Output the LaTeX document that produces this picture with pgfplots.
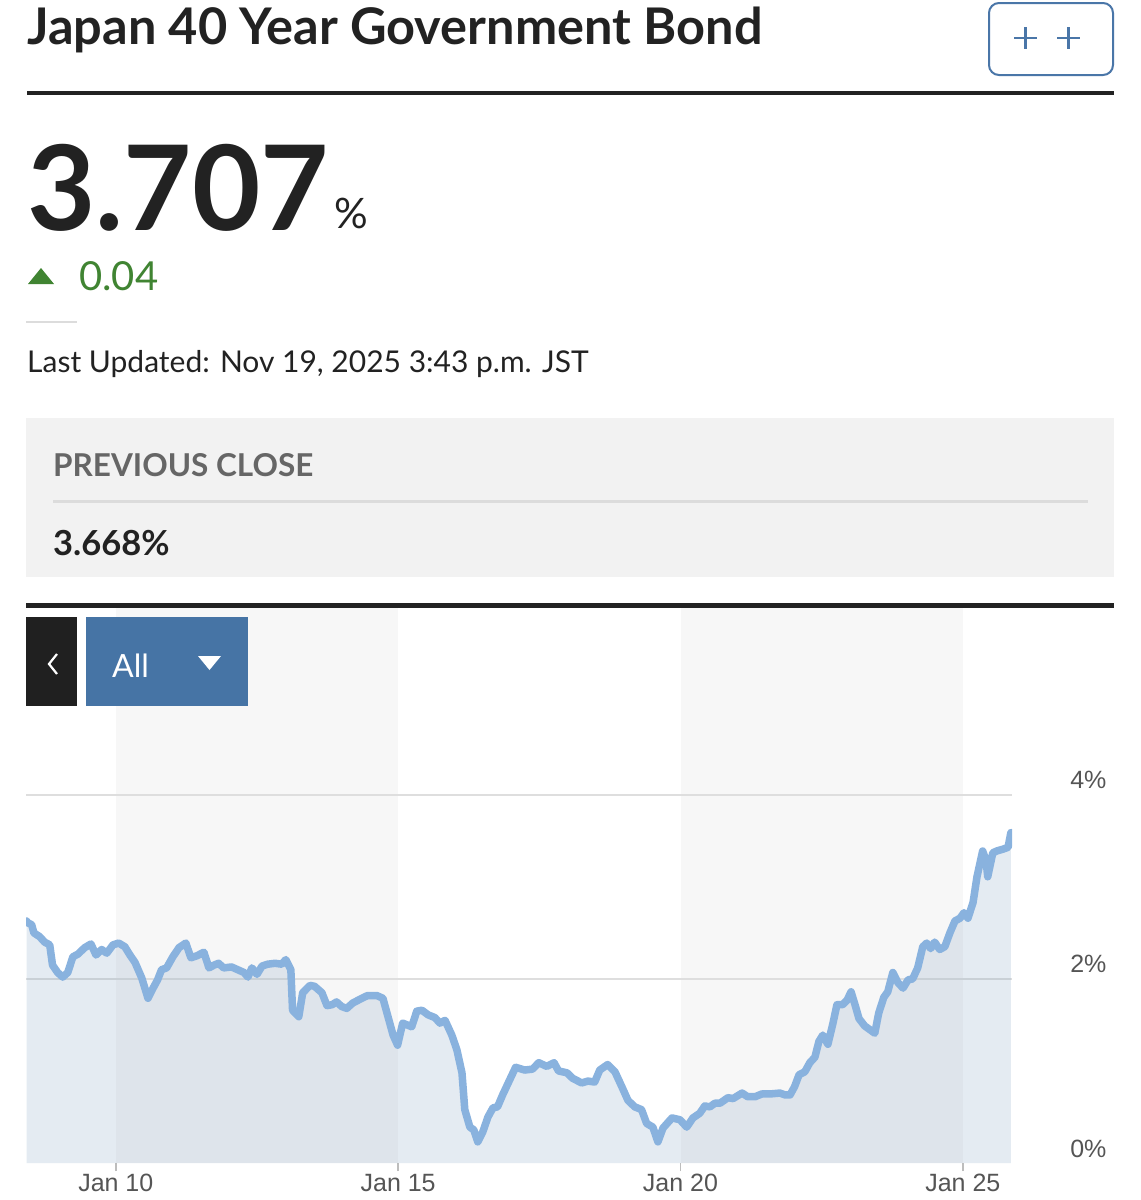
\documentclass[border=0pt]{standalone}
\usepackage{pgfplots}
\pgfplotsset{compat=1.18}
\usepackage{pgfplotstable}
\usepackage{fontspec}
\setmainfont{Lato}
\newfontfamily\chartfont{Liberation Sans}
\definecolor{txt}{RGB}{34,34,34}
\definecolor{grn}{RGB}{64,132,50}
\definecolor{btnblue}{RGB}{74,118,168}
\definecolor{boxgray}{RGB}{242,242,242}
\definecolor{band}{RGB}{247,247,247}
\definecolor{linecol}{RGB}{137,178,222}
\definecolor{areacol}{RGB}{100,140,180}
\definecolor{gridc}{RGB}{222,222,222}
\definecolor{lbl}{RGB}{85,85,85}
\definecolor{allblue}{RGB}{70,116,165}
\definecolor{sep}{RGB}{220,220,220}

\pgfplotstableread{
year pct
2008.42 2.63
2008.44 2.61
2008.51 2.59
2008.55 2.50
2008.65 2.46
2008.74 2.40
2008.83 2.37
2008.88 2.15
2008.97 2.07
2009.06 2.02
2009.15 2.07
2009.24 2.24
2009.33 2.27
2009.45 2.34
2009.56 2.38
2009.65 2.26
2009.75 2.32
2009.84 2.28
2009.95 2.37
2010.05 2.39
2010.16 2.35
2010.25 2.26
2010.34 2.18
2010.46 2.01
2010.57 1.79
2010.66 1.90
2010.74 1.99
2010.81 2.10
2010.90 2.12
2011.01 2.24
2011.12 2.34
2011.24 2.39
2011.33 2.23
2011.43 2.25
2011.56 2.29
2011.65 2.12
2011.74 2.15
2011.82 2.17
2011.91 2.12
2012.05 2.13
2012.16 2.10
2012.27 2.07
2012.34 2.02
2012.41 2.12
2012.50 2.05
2012.59 2.14
2012.69 2.16
2012.82 2.17
2012.94 2.16
2013.01 2.21
2013.10 2.10
2013.13 1.66
2013.24 1.59
2013.31 1.85
2013.44 1.93
2013.52 1.92
2013.65 1.85
2013.74 1.71
2013.83 1.72
2013.91 1.75
2014.00 1.70
2014.09 1.68
2014.20 1.74
2014.36 1.79
2014.46 1.82
2014.62 1.82
2014.73 1.79
2014.82 1.59
2014.91 1.39
2014.99 1.28
2015.08 1.52
2015.24 1.48
2015.33 1.65
2015.42 1.66
2015.53 1.61
2015.65 1.58
2015.74 1.52
2015.83 1.55
2015.95 1.39
2016.04 1.23
2016.13 0.98
2016.18 0.58
2016.27 0.39
2016.34 0.36
2016.41 0.23
2016.50 0.34
2016.59 0.50
2016.68 0.60
2016.76 0.61
2016.85 0.74
2016.98 0.91
2017.08 1.04
2017.24 1.01
2017.38 1.02
2017.49 1.09
2017.63 1.05
2017.76 1.09
2017.84 1.00
2017.99 0.98
2018.09 0.92
2018.25 0.87
2018.36 0.89
2018.48 0.88
2018.57 1.01
2018.71 1.07
2018.84 0.99
2018.96 0.83
2019.07 0.68
2019.19 0.61
2019.31 0.58
2019.40 0.43
2019.51 0.39
2019.60 0.23
2019.69 0.38
2019.85 0.49
2019.99 0.47
2020.11 0.39
2020.22 0.49
2020.34 0.54
2020.43 0.62
2020.52 0.61
2020.61 0.65
2020.70 0.65
2020.84 0.71
2020.93 0.70
2021.09 0.76
2021.19 0.72
2021.32 0.72
2021.44 0.75
2021.58 0.75
2021.76 0.76
2021.85 0.74
2021.94 0.74
2022.02 0.83
2022.10 0.96
2022.20 0.99
2022.29 1.09
2022.38 1.15
2022.45 1.32
2022.52 1.39
2022.61 1.29
2022.70 1.52
2022.77 1.72
2022.87 1.72
2022.95 1.77
2023.02 1.86
2023.09 1.72
2023.16 1.57
2023.26 1.49
2023.35 1.45
2023.44 1.41
2023.51 1.63
2023.60 1.80
2023.67 1.86
2023.76 2.07
2023.85 1.96
2023.94 1.90
2024.03 1.99
2024.11 2.00
2024.20 2.12
2024.29 2.35
2024.36 2.39
2024.43 2.33
2024.50 2.40
2024.59 2.32
2024.68 2.35
2024.77 2.50
2024.86 2.63
2024.95 2.66
2025.02 2.72
2025.09 2.66
2025.18 2.83
2025.25 3.11
2025.35 3.39
2025.41 3.29
2025.44 3.11
2025.53 3.37
2025.60 3.39
2025.71 3.41
2025.80 3.43
2025.85 3.59
}\bonddata

\begin{document}
\begin{tikzpicture}
\useasboundingbox (0,0) rectangle (1141pt,-1200pt);
\fill[white] (0,0) rectangle (1141pt,-1200pt);
\begin{scope}[x=1pt,y=-1pt]
  % title
  \node[anchor=base west, inner sep=0, text=txt, font=\fontsize{50.5}{56}\selectfont\bfseries] at (27,44) {Japan 40 Year Government Bond};
  % button
  \draw[btnblue, line width=2pt, rounded corners=10pt] (989,3) rectangle (1113,75);
  \draw[btnblue, line width=2.5pt] (1014,38)--(1037,38) (1025.5,27)--(1025.5,49);
  \draw[btnblue, line width=2.5pt] (1057,38)--(1080,38) (1068.5,27)--(1068.5,49);
  % rule
  \fill[txt] (27,91) rectangle (1114,95);
  % big value
  \node[anchor=base west, inner sep=0, text=txt, font=\fontsize{118}{126}\selectfont\bfseries] at (27,230) {3.707};
  \node[anchor=base west, inner sep=0, text=txt, font=\fontsize{42}{46}\selectfont] at (334,228) {\%};
  % change
  \fill[grn] (28,284) -- (54,284) -- (41,268) -- cycle;
  \node[anchor=base west, inner sep=0, text=grn, font=\fontsize{40}{44}\selectfont] at (79,290) {0.04};
  \fill[sep] (26,321) rectangle (77,323);
  \node[anchor=base west, inner sep=0, text=txt, font=\fontsize{30}{34}\selectfont] at (27,372) {Last Updated: Nov 19, 2025 3:43 p.m. JST};
  % previous close box
  \fill[boxgray] (26,418) rectangle (1114,577);
  \node[anchor=base west, inner sep=0, text=lbl!90!white, font=\fontsize{31.5}{35}\selectfont\bfseries] at (53,476) {PREVIOUS CLOSE};
  \fill[sep] (53,500) rectangle (1088,503);
  \node[anchor=base west, inner sep=0, text=txt, font=\fontsize{34.5}{38}\selectfont\bfseries] at (53,555) {3.668\%};
  % second rule
  \fill[txt] (26,603) rectangle (1114,608);
  % bands
  \fill[band] (116,608) rectangle (398,1163);
  \fill[band] (681,608) rectangle (963,1163);
\end{scope}

\begin{axis}[
  at={(26pt,-1163pt)}, anchor=south west,
  width=986pt, height=555pt, scale only axis,
  xmin=2008.41, xmax=2025.87, ymin=0, ymax=6.03,
  axis x line*=bottom, axis y line*=right,
  axis line style={draw=none},
  xtick={2010,2015,2020,2025},
  xticklabels={Jan 10,Jan 15,Jan 20,Jan 25},
  ytick={2,4},
  yticklabels={2\%,4\%},
  extra y ticks={0},
  extra y tick labels={0\%},
  extra y tick style={grid=none},
  tick align=outside,
  major tick length=8pt,
  x tick style={draw=gridc!85!black, line width=1.5pt},
  y tick style={draw=none},
  ymajorgrids, grid style={draw=gridc, line width=2pt},
  ticklabel style={font=\chartfont\fontsize{25}{25}\selectfont, text=lbl},
  xticklabel style={anchor=base, yshift=-20pt},
  yticklabel style={anchor=base east, xshift=90pt, yshift=6pt},
]
\addplot[draw=none, fill=areacol, fill opacity=0.17] table[x=year,y=pct] {\bonddata} \closedcycle;
\addplot[color=linecol, line width=7.5pt, line join=round, line cap=round] table[x=year,y=pct] {\bonddata};
\end{axis}

\begin{scope}[x=1pt,y=-1pt]
  \fill[txt!95!black] (26,617) rectangle (77,706);
  \draw[white, line width=2.2pt] (57,654) -- (49,664) -- (57,674);
  \fill[allblue] (86,617) rectangle (248,706);
  \node[anchor=base west, inner sep=0, text=white, font=\fontsize{32}{36}\selectfont] at (112,677) {All};
  \fill[white] (198,656) -- (221,656) -- (209.5,670) -- cycle;
\end{scope}
\end{tikzpicture}
\end{document}
